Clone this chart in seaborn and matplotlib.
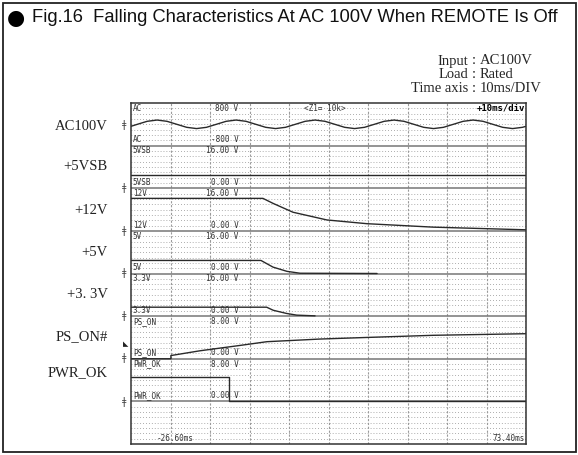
import matplotlib
matplotlib.use("Agg")
import matplotlib.pyplot as plt
from matplotlib.patches import Rectangle
import seaborn as sns

# time axis of the recorder screen (ms), 10 ms/div, 10 divisions
t_left, t_right = -26.6, 73.4
div_ticks = [-16.6, -6.6, 3.4, 13.4, 23.4, 33.4, 43.4, 53.4, 63.4]

# AC input waveform (ms, V)
ac_t = [-26.6, -25.0, -22.5, -20.0, -17.5, -15.0, -12.5, -10.0, -7.5, -5.0, -2.5,
        0.0, 2.5, 5.0, 7.5, 10.0, 12.5, 15.0, 17.5, 20.0, 22.5, 25.0, 27.5, 30.0,
        32.5, 35.0, 37.5, 40.0, 42.5, 45.0, 47.5, 50.0, 52.5, 55.0, 57.5, 60.0,
        62.5, 65.0, 67.5, 70.0, 72.5, 73.4]
ac_v = [-75, 0, 113, 160, 113, 0, -113, -160, -113, 0, 113,
        160, 113, 0, -113, -160, -113, 0, 113, 160, 113, 0, -113, -160,
        -113, 0, 113, 160, 113, 0, -113, -160, -113, 0, 113, 160,
        113, 0, -113, -160, -113, -75]

vsb_t = [-26.6, 73.4]
vsb_v = [4.8, 4.8]

v12_t = [-26.6, 6.8, 9.4, 14.4, 23.0, 33.1, 49.9, 73.4]
v12_v = [12.2, 12.2, 10.3, 7.0, 4.1, 2.7, 1.4, 0.4]

v5_t = [-26.6, 6.3, 9.35, 12.9, 16.2, 35.7]
v5_v = [4.9, 4.9, 2.4, 0.8, 0.1, 0.0]

v33_t = [-26.6, 7.75, 9.4, 12.8, 15.35, 20.0]
v33_v = [3.35, 3.35, 2.2, 1.0, 0.37, 0.1]

pson_t = [-26.6, -16.5, -16.5, -9.1, 1.0, 7.8, 21.3, 33.2, 49.9, 73.4]
pson_v = [0.0, 0.0, 0.6, 1.5, 2.5, 3.2, 3.7, 4.0, 4.4, 4.7]

pwrok_t = [-26.6, -1.8, -1.8, 73.4]
pwrok_v = [4.5, 4.5, 0.0, 0.0]

# channel name, trace, bottom of its division, full scale, top / bottom scale text
channels = [
    ("AC", ac_t, ac_v, 7, 1600, "800 V", "-800 V"),
    ("5VSB", vsb_t, vsb_v, 6, 16, "16.00 V", "0.00 V"),
    ("12V", v12_t, v12_v, 5, 16, "16.00 V", "0.00 V"),
    ("5V", v5_t, v5_v, 4, 16, "16.00 V", "0.00 V"),
    ("3.3V", v33_t, v33_v, 3, 16, "16.00 V", "0.00 V"),
    ("PS_ON", pson_t, pson_v, 2, 8, "8.00 V", "0.00 V"),
    ("PWR_OK", pwrok_t, pwrok_v, 1, 8, "8.00 V", "0.00 V"),
]
side_labels = ["AC100V", "+5VSB", "+12V", "+5V", "+3. 3V", "PS_ON#", "PWR_OK"]
side_label_y = [126, 166, 210, 253, 295, 337, 373]
ground_y = [124.5, 188, 231, 273, 316, 358, 402]

W, H = 578, 455


def fx(px):
    return px / W


def fy(py):
    return 1 - py / H


sns.set_theme(style="white")
plt.rcParams["font.family"] = ["DejaVu Sans"]

fig = plt.figure(figsize=(W / 100, H / 100), dpi=100)
fig.patches.append(Rectangle((fx(3), fy(452)), fx(573), (449) / H, transform=fig.transFigure,
                             fill=False, edgecolor="#222222", linewidth=1.3))

# title
fig.text(fx(15.5), fy(18), "\u25cf", ha="center", va="center", fontsize=15, color="black")
fig.text(fx(32), fy(18), "Fig.16  Falling Characteristics At AC 100V When REMOTE Is Off",
         ha="left", va="center", fontsize=13.2, color="#111111",
         family=["Liberation Sans", "DejaVu Sans"])

# test conditions
serif = ["Liberation Serif", "DejaVu Serif"]
for row, (k, v) in zip([61, 74.5, 88], [("Input", "AC100V"), ("Load", "Rated"),
                                        ("Time axis", "10ms/DIV")]):
    fig.text(fx(468), fy(row), k, ha="right", va="center", fontsize=10.5, family=serif)
    fig.text(fx(474), fy(row), ":", ha="center", va="center", fontsize=10.5, family=serif)
    fig.text(fx(480), fy(row), v, ha="left", va="center", fontsize=10.5, family=serif)

for lab, yy in zip(side_labels, side_label_y):
    fig.text(fx(108), fy(yy), lab, ha="right", va="center", fontsize=10.5, family=serif,
             color="#222222")
for gy in ground_y:
    fig.text(fx(124), fy(gy), "\u01c2", ha="center", va="center", fontsize=7, color="#444444")
fig.text(fx(126), fy(344), "\u25e3", ha="center", va="center", fontsize=5, color="#222222")

ax = fig.add_axes([fx(131), fy(444), 395 / W, 341 / H])

# fine dotted rows, 8 per division
for k in range(1, 64):
    if k % 8:
        ax.axhline(k / 8, color="#9a9a9a", linewidth=0.7, linestyle=(0, (0.8, 2.2)))
for xt in div_ticks:
    ax.axvline(xt, color="#9a9a9a", linewidth=0.8, linestyle=(0, (2, 1.5)))
for b in range(1, 8):
    ax.axhline(b, color="#777777", linewidth=1.1)

mono = "DejaVu Sans Mono"
for name, tt, vv, base, span, top_txt, bot_txt in channels:
    if name == "AC":
        yy = [base + 0.5 + v / span for v in vv]
    else:
        yy = [base + v / span for v in vv]
    sns.lineplot(x=tt, y=yy, ax=ax, color="#2a2a2a", linewidth=1.0, sort=False,
                 estimator=None)
    ax.text(-26.1, base + 0.98, name, ha="left", va="top", fontsize=5.5, family=mono,
            color="#333333")
    ax.text(0.6, base + 0.98, top_txt, ha="right", va="top", fontsize=5.5, family=mono,
            color="#333333")
    ax.text(-26.1, base + 0.03, name, ha="left", va="bottom", fontsize=5.5, family=mono,
            color="#333333")
    ax.text(0.6, base + 0.03, bot_txt, ha="right", va="bottom", fontsize=5.5, family=mono,
            color="#333333")

ax.text(17.2, 7.98, "<Z1= 10k>", ha="left", va="top", fontsize=5.5, family=mono, color="#333333")
ax.text(73.2, 7.98, "+10ms/div", ha="right", va="top", fontsize=6.5, family=mono,
        color="black", fontweight="bold")
ax.text(-20.0, 0.03, "-26.60ms", ha="left", va="bottom", fontsize=5.5, family=mono, color="#333333")
ax.text(73.2, 0.03, "73.40ms", ha="right", va="bottom", fontsize=5.5, family=mono, color="#333333")

ax.set_xlim(t_left, t_right)
ax.set_ylim(0, 8)
ax.set_xticks([])
ax.set_yticks([])
ax.set_xlabel("")
ax.set_ylabel("")
for s in ax.spines.values():
    s.set_color("#333333")
    s.set_linewidth(1.1)

fig.savefig("out.png", dpi=100)
